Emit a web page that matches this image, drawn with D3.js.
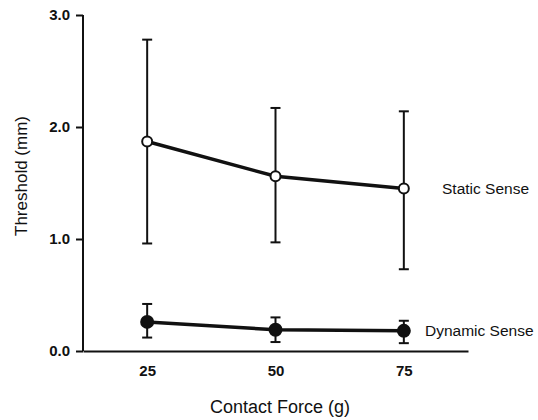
<!DOCTYPE html>
<html>
<head>
<meta charset="utf-8">
<script src="https://cdn.jsdelivr.net/npm/d3@7"></script>
<style>
  body { margin: 0; background: #fff; }
  text { font-family: "Liberation Sans", Arial, Helvetica, sans-serif; fill: #111; }
</style>
</head>
<body>
<div id="chart"></div>
<script>
// contact force levels (g)
const forces = [25, 50, 75];

// static sense: mean and error bar ends (mm)
const staticMean = [1.87, 1.56, 1.45];
const staticHigh = [2.78, 2.17, 2.14];
const staticLow = [0.96, 0.97, 0.73];

// dynamic sense
const dynamicMean = [0.26, 0.19, 0.18];
const dynamicHigh = [0.42, 0.30, 0.27];
const dynamicLow = [0.12, 0.08, 0.07];

const yTicks = [0, 1, 2, 3];

const width = 538, height = 420;
const margin = { top: 15, right: 70, bottom: 69, left: 83 };

const svg = d3.select("#chart").append("svg")
  .attr("width", width)
  .attr("height", height);

const x = d3.scaleLinear()
  .domain([12.5, 87.5])
  .range([margin.left, width - margin.right]);
const y = d3.scaleLinear()
  .domain([0, 3])
  .range([height - margin.bottom, margin.top]);

// y axis
const yAxis = svg.append("g")
  .attr("transform", "translate(" + margin.left + ",0)")
  .call(d3.axisLeft(y).tickValues(yTicks).tickFormat(d3.format(".1f")).tickSize(7).tickPadding(6));
yAxis.select(".domain").attr("stroke", "#111").attr("stroke-width", 2).attr("d", "M0," + y(3) + "V" + y(0));
yAxis.selectAll(".tick line").attr("stroke", "#111").attr("stroke-width", 2);
yAxis.selectAll(".tick text").attr("font-size", 15).attr("font-weight", "bold");

// x axis (labels only, no ticks)
const xAxis = svg.append("g")
  .attr("transform", "translate(0," + y(0) + ")")
  .call(d3.axisBottom(x).tickValues(forces).tickSize(0).tickPadding(14));
xAxis.select(".domain").attr("stroke", "#111").attr("stroke-width", 2);
xAxis.selectAll(".tick text").attr("font-size", 15).attr("font-weight", "bold");

// axis titles
svg.append("text")
  .attr("x", 280)
  .attr("y", 413)
  .attr("text-anchor", "middle")
  .attr("font-size", 18)
  .text("Contact Force (g)");
svg.append("text")
  .attr("transform", "translate(27,176) rotate(-90)")
  .attr("text-anchor", "middle")
  .attr("font-size", 17)
  .text("Threshold (mm)");

const drawSeries = function (mean, low, high, filled, r, label, lx) {
  const g = svg.append("g");
  forces.forEach(function (f, i) {
    g.append("line")
      .attr("x1", x(f)).attr("x2", x(f))
      .attr("y1", y(low[i])).attr("y2", y(high[i]))
      .attr("stroke", "#111").attr("stroke-width", 2);
    [low[i], high[i]].forEach(function (v) {
      g.append("line")
        .attr("x1", x(f) - 5).attr("x2", x(f) + 5)
        .attr("y1", y(v)).attr("y2", y(v))
        .attr("stroke", "#111").attr("stroke-width", 2);
    });
  });
  const line = d3.line()
    .x(function (d, i) { return x(forces[i]); })
    .y(function (d) { return y(d); });
  g.append("path")
    .datum(mean)
    .attr("d", line)
    .attr("fill", "none")
    .attr("stroke", "#111")
    .attr("stroke-width", 3.5);
  g.selectAll("circle")
    .data(mean)
    .enter().append("circle")
    .attr("cx", function (d, i) { return x(forces[i]); })
    .attr("cy", function (d) { return y(d); })
    .attr("r", r)
    .attr("fill", filled ? "#111" : "#fff")
    .attr("stroke", "#111")
    .attr("stroke-width", 2);
  svg.append("text")
    .attr("x", lx)
    .attr("y", y(mean[2]) + 5)
    .attr("font-size", 15.5)
    .text(label);
};

drawSeries(staticMean, staticLow, staticHigh, false, 5, "Static Sense", 442);
drawSeries(dynamicMean, dynamicLow, dynamicHigh, true, 6, "Dynamic Sense", 425);
</script>
</body>
</html>
